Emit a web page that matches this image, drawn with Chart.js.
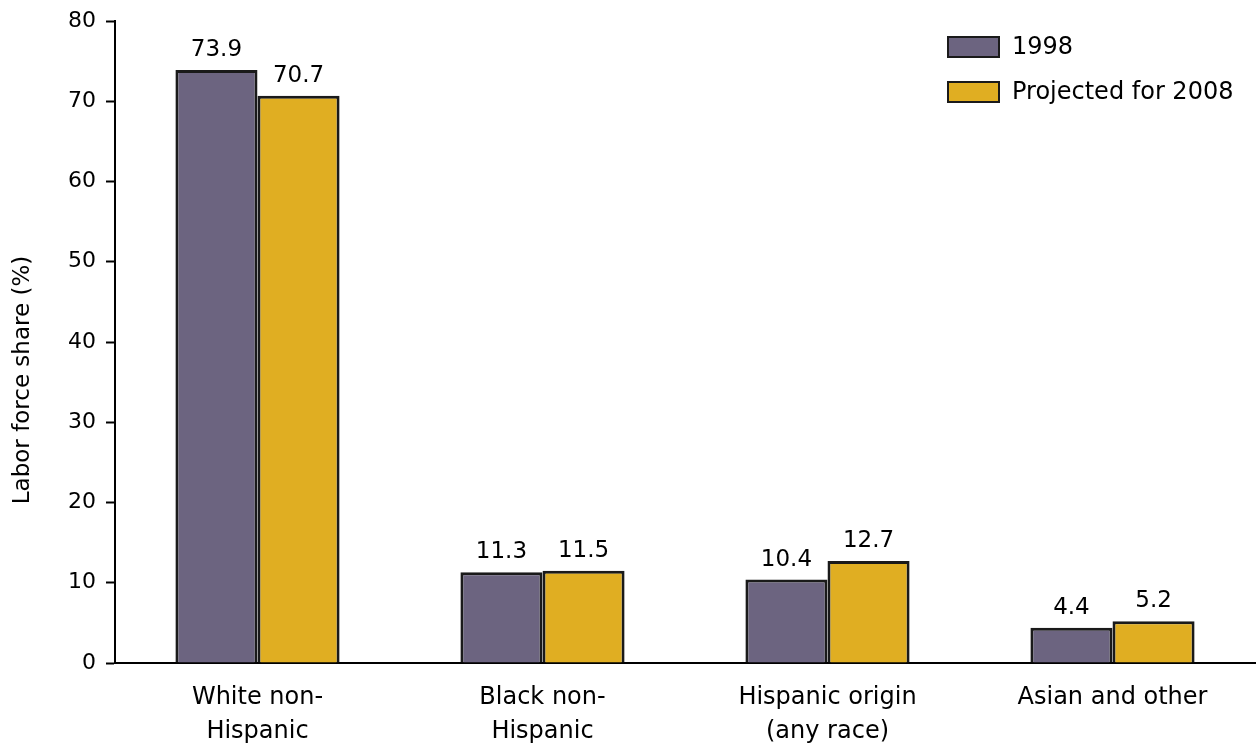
<!DOCTYPE html>
<html>
<head>
<meta charset="utf-8">
<script src="https://cdn.jsdelivr.net/npm/chart.js@4"></script>
<style>
  html, body { margin: 0; padding: 0; background: #fff; }
  #wrap { width: 1257px; height: 746px; }
</style>
</head>
<body>
<div id="wrap"><canvas id="myChart" width="1257" height="746"></canvas></div>
<script>
// data
const categories = [['White non-', 'Hispanic'], ['Black non-', 'Hispanic'], ['Hispanic origin', '(any race)'], 'Asian and other'];
const share1998 = [73.9, 11.3, 10.4, 4.4];
const share2008 = [70.7, 11.5, 12.7, 5.2];
const yTicks = [0, 10, 20, 30, 40, 50, 60, 70, 80];
const yTitle = 'Labor force share (%)';

const FONT = "'DejaVu Sans', sans-serif";

// value labels over the bars
const valueLabels = {
  id: 'valueLabels',
  afterDatasetsDraw(chart) {
    const ctx = chart.ctx;
    ctx.save();
    ctx.font = '23px ' + FONT;
    ctx.fillStyle = '#000';
    ctx.textAlign = 'center';
    ctx.textBaseline = 'alphabetic';
    chart.data.datasets.forEach((ds, i) => {
      chart.getDatasetMeta(i).data.forEach((bar, j) => {
        ctx.fillText(ds.data[j].toFixed(1), bar.x, bar.y - 14);
      });
    });
    ctx.restore();
  }
};

// legend in the top right corner + rotated y title
const extras = {
  id: 'extras',
  afterDraw(chart) {
    const ctx = chart.ctx;
    ctx.save();
    ctx.font = '24px ' + FONT;
    ctx.textBaseline = 'middle';
    ctx.textAlign = 'left';
    chart.data.datasets.forEach((ds, i) => {
      const y = 37 + i * 45;
      ctx.fillStyle = ds.backgroundColor;
      ctx.fillRect(948, y, 51, 20);
      ctx.lineWidth = 2;
      ctx.strokeStyle = '#1a1a1a';
      ctx.strokeRect(948, y, 51, 20);
      ctx.fillStyle = '#000';
      ctx.fillText(ds.label, 1012, y + 11);
    });

    ctx.translate(23, 380);
    ctx.rotate(-Math.PI / 2);
    ctx.font = '23px ' + FONT;
    ctx.textAlign = 'center';
    ctx.textBaseline = 'middle';
    ctx.fillText(yTitle, 0, 0);
    ctx.restore();
  }
};

var myChart = new Chart(document.getElementById('myChart'), {
  type: 'bar',
  data: {
    labels: categories,
    datasets: [
      {
        label: '1998',
        data: share1998,
        backgroundColor: '#6c6480',
        borderColor: '#1a1a1a',
        borderWidth: 3,
      },
      {
        label: 'Projected for 2008',
        data: share2008,
        backgroundColor: '#e0ae22',
        borderColor: '#1a1a1a',
        borderWidth: 3,
      },
    ],
  },
  options: {
    responsive: false,
    animation: false,
    categoryPercentage: 0.576,
    barPercentage: 1,
    layout: { padding: { top: 20, right: 2, left: 0, bottom: 0 } },
    plugins: {
      legend: { display: false },
      tooltip: { enabled: false },
    },
    scales: {
      x: {
        grid: { display: false },
        border: { display: true, color: '#000', width: 2 },
        ticks: {
          color: '#000',
          font: { family: FONT, size: 24, lineHeight: 1.45 },
          padding: 9,
          maxRotation: 0,
          autoSkip: false,
        },
        afterFit(scale) { scale.height = 83; },
      },
      y: {
        min: 0,
        max: 80,
        afterBuildTicks(scale) { scale.ticks = yTicks.map((v) => ({ value: v })); },
        grid: { drawOnChartArea: false, drawTicks: true, tickLength: 9, color: '#000', tickColor: '#000', tickWidth: 2 },
        border: { display: true, color: '#000', width: 2 },
        ticks: {
          color: '#000',
          font: { family: FONT, size: 22, lineHeight: 1 },
          padding: 10,
        },
        afterFit(scale) { scale.width = 115; },
      },
    },
  },
  plugins: [valueLabels, extras],
});
</script>
</body>
</html>
